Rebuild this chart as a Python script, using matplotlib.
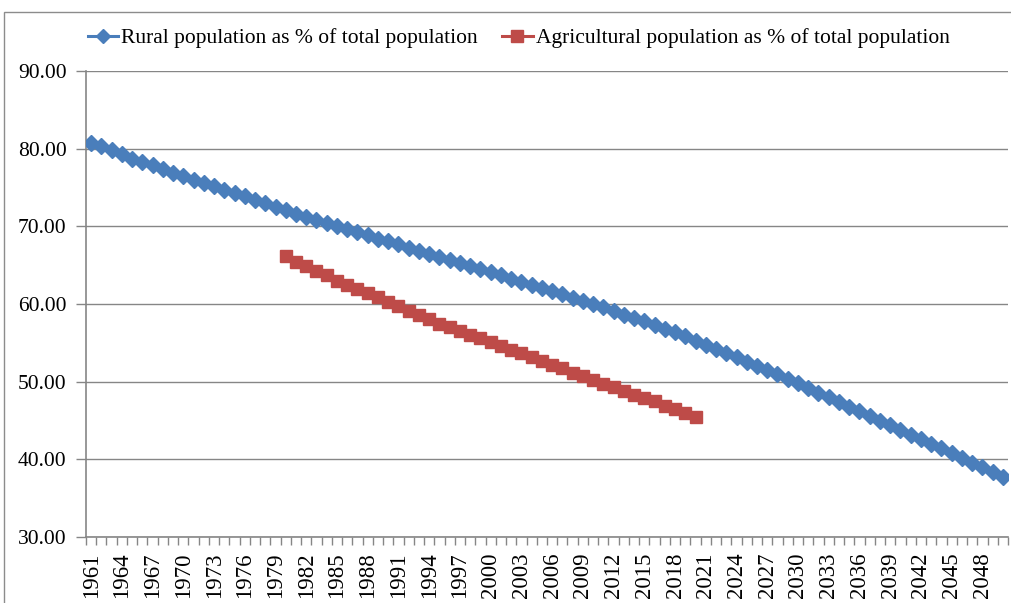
import matplotlib
matplotlib.use("Agg")
import matplotlib.pyplot as plt
from matplotlib.patches import Rectangle
from matplotlib.ticker import FixedLocator, FixedFormatter

plt.rcParams["font.family"] = ["Liberation Serif", "DejaVu Serif"]

years = list(range(1961, 2051))

rural_pct = [
    80.77, 80.33, 79.78, 79.27, 78.71, 78.28, 77.89, 77.37, 76.86, 76.43,
    76.01, 75.62, 75.15, 74.72, 74.34, 73.90, 73.44, 72.96, 72.54, 72.10,
    71.63, 71.20, 70.77, 70.43, 70.09, 69.70, 69.27, 68.84, 68.41, 68.07,
    67.68, 67.26, 66.82, 66.40, 66.05, 65.62, 65.24, 64.85, 64.47, 64.10,
    63.68, 63.22, 62.78, 62.45, 62.05, 61.65, 61.25, 60.82, 60.40, 60.00,
    59.56, 59.05, 58.62, 58.20, 57.76, 57.34, 56.80, 56.35, 55.85, 55.30,
    54.74, 54.19, 53.67, 53.16, 52.59, 52.04, 51.52, 50.97, 50.36, 49.81,
    49.24, 48.60, 48.00, 47.40, 46.77, 46.26, 45.57, 44.97, 44.41, 43.77,
    43.12, 42.57, 41.97, 41.41, 40.77, 40.13, 39.56, 38.97, 38.40, 37.68,
]

agri_years = list(range(1980, 2021))
agri_pct = [
    66.13, 65.44, 64.84, 64.29, 63.73, 63.00, 62.48, 61.93, 61.42, 60.85,
    60.30, 59.69, 59.05, 58.62, 58.07, 57.43, 56.99, 56.48, 56.05, 55.62,
    55.06, 54.63, 54.10, 53.64, 53.13, 52.66, 52.17, 51.71, 51.12, 50.69,
    50.26, 49.70, 49.27, 48.84, 48.33, 47.90, 47.47, 46.91, 46.49, 45.92,
    45.50,
]

label_every = 3
blue = "#4A7EBB"
red = "#BE4B48"
grid_grey = "#868686"

fig = plt.figure(figsize=(10.12, 6.03), dpi=100)
fig.patches.append(Rectangle((4 / 1012, -0.01), 1.02, 1 - 12 / 603 + 0.01,
                             transform=fig.transFigure, fill=False,
                             edgecolor="#8C8C8C", linewidth=1.0))

ax = fig.add_axes([86 / 1012, 1 - 537 / 603, (1008 - 86) / 1012, (537 - 71) / 603])

xr = [years.index(y) for y in years]
xa = [years.index(y) for y in agri_years]

ax.plot(xr, rural_pct, color=blue, linewidth=2.2, marker="D", markersize=7.8,
        markerfacecolor=blue, markeredgecolor=blue,
        label="Rural population as % of total population", zorder=3)
ax.plot(xa, agri_pct, color=red, linewidth=2.2, marker="s", markersize=8.5,
        markerfacecolor=red, markeredgecolor=red,
        label="Agricultural population as % of total population", zorder=3)

ax.set_xlim(-0.5, len(years) - 0.5)
ax.set_ylim(30, 90)
ax.set_yticks([30, 40, 50, 60, 70, 80, 90])
ax.set_yticklabels([f"{v:.2f}" for v in [30, 40, 50, 60, 70, 80, 90]])

label_pos = list(range(0, len(years), label_every))
ax.xaxis.set_major_locator(FixedLocator(label_pos))
ax.xaxis.set_major_formatter(FixedFormatter([str(years[i]) for i in label_pos]))
ax.xaxis.set_minor_locator(FixedLocator([i - 0.5 for i in range(len(years) + 1)]))
ax.tick_params(axis="x", which="major", length=0, labelsize=16.5, rotation=90, pad=11)
ax.tick_params(axis="x", which="minor", length=6, color=grid_grey, width=1)
ax.tick_params(axis="y", which="major", length=7, color=grid_grey, width=1,
               labelsize=15.5, pad=7)

ax.grid(axis="y", color=grid_grey, linewidth=1.0)
ax.set_axisbelow(True)
for side in ("top", "right"):
    ax.spines[side].set_visible(False)
for side in ("left", "bottom"):
    ax.spines[side].set_color(grid_grey)
    ax.spines[side].set_linewidth(1.2)

fig.legend(loc="center", bbox_to_anchor=(0.5125, 1 - 38 / 603), ncol=2,
           frameon=False, fontsize=15.5, handlelength=1.4, handletextpad=0.15,
           columnspacing=1.15, markerscale=0.95)

fig.savefig("out.png", dpi=100)
